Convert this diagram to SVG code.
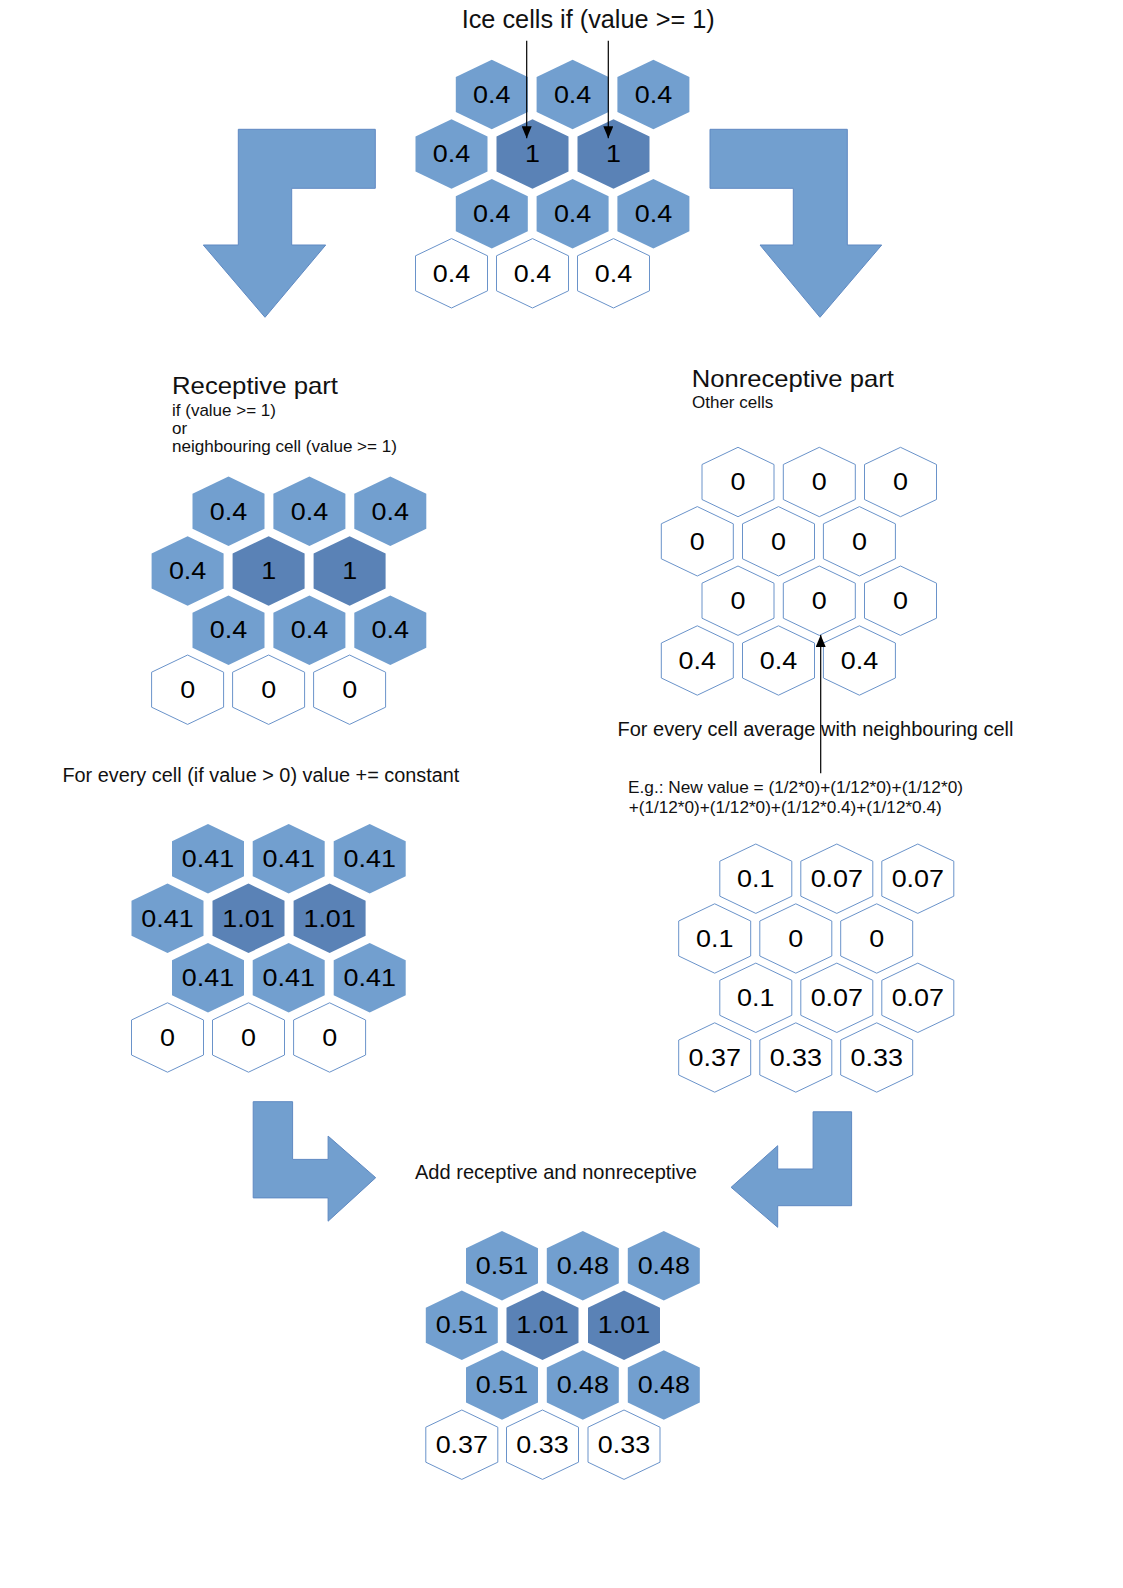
<svg xmlns="http://www.w3.org/2000/svg" width="1123" height="1588" viewBox="0 0 1123 1588">
<defs>
<style>
.light{fill:#729fcf;}
.dark{fill:#5a82b6;}
.white{fill:#ffffff;stroke:#6a93ca;stroke-width:1;}
.v{font-family:"Liberation Sans",Arial,sans-serif;font-size:23px;fill:#000;text-anchor:middle;}
.t{font-family:"Liberation Sans",Arial,sans-serif;fill:#111;}
.blk{fill:#729fcf;stroke:#5f89c2;stroke-width:1;}
.ln{stroke:#000;stroke-width:1.2;fill:none;marker-end:url(#ah);}
</style>
<polygon id="hx" points="0,-34.7 36,-17.5 36,17.5 0,34.7 -36,17.5 -36,-17.5"/>
<marker id="ah" markerUnits="userSpaceOnUse" markerWidth="12" markerHeight="10" refX="12" refY="5" orient="auto"><path d="M0,0 L12,5 L0,10 z" fill="#000"/></marker>
</defs>
<rect width="1123" height="1588" fill="#fff"/>

<g id="labels">
<text class="t" x="461.7" y="28" font-size="25" textLength="253" lengthAdjust="spacingAndGlyphs">Ice cells if (value &gt;= 1)</text>
<text class="t" x="172" y="393.8" font-size="24" textLength="166" lengthAdjust="spacingAndGlyphs">Receptive part</text>
<text class="t" x="172" y="415.8" font-size="17">if (value &gt;= 1)</text>
<text class="t" x="172" y="433.8" font-size="17">or</text>
<text class="t" x="172" y="452.3" font-size="17" textLength="225" lengthAdjust="spacingAndGlyphs">neighbouring cell (value &gt;= 1)</text>
<text class="t" x="691.8" y="387.3" font-size="24" textLength="202" lengthAdjust="spacingAndGlyphs">Nonreceptive part</text>
<text class="t" x="692" y="407.8" font-size="17">Other cells</text>
<text class="t" x="62.4" y="781.7" font-size="19.5" textLength="397" lengthAdjust="spacingAndGlyphs">For every cell (if value &gt; 0) value += constant</text>
<text class="t" x="617.5" y="735.5" font-size="19.5" textLength="396" lengthAdjust="spacingAndGlyphs">For every cell average with neighbouring cell</text>
<text class="t" x="628" y="793" font-size="16" textLength="335" lengthAdjust="spacingAndGlyphs">E.g.: New value = (1/2*0)+(1/12*0)+(1/12*0)</text>
<text class="t" x="628.7" y="812.8" font-size="16" textLength="313" lengthAdjust="spacingAndGlyphs">+(1/12*0)+(1/12*0)+(1/12*0.4)+(1/12*0.4)</text>
<text class="t" x="415" y="1178.5" font-size="19.8" textLength="282" lengthAdjust="spacingAndGlyphs">Add receptive and nonreceptive</text>
</g>

<g id="connectors">
<path class="blk" d="M238.3,129.3 L375.3,129.3 L375.3,188.3 L291.7,188.3 L291.7,245 L325.7,245 L265,317.3 L203.3,245 L238.3,245 Z"/>
<path class="blk" d="M710,129.3 L847.3,129.3 L847.3,245 L881.7,245 L820,317.3 L760,245 L793.3,245 L793.3,188.3 L710,188.3 Z"/>
<path class="blk" d="M253.2,1101.7 L292.6,1101.7 L292.6,1159.4 L328.1,1159.4 L328.1,1136.1 L375.7,1177.7 L328.1,1221.2 L328.1,1197.9 L253.2,1197.9 Z"/>
<path class="blk" d="M851.6,1111.8 L851.6,1205.7 L777.7,1205.7 L777.7,1227.3 L731.1,1187.3 L777.7,1145.7 L777.7,1169 L813.1,1169 L813.1,1111.8 Z"/>
</g>

<g id="grid-top">
<g id="top-1-1" transform="translate(491.8,94.5)"><use href="#hx" class="light"/><text class="v" transform="scale(1.17,1)" y="8.2">0.4</text></g>
<g id="top-1-2" transform="translate(572.6,94.5)"><use href="#hx" class="light"/><text class="v" transform="scale(1.17,1)" y="8.2">0.4</text></g>
<g id="top-1-3" transform="translate(653.4,94.5)"><use href="#hx" class="light"/><text class="v" transform="scale(1.17,1)" y="8.2">0.4</text></g>
<g id="top-2-1" transform="translate(451.5,154)"><use href="#hx" class="light"/><text class="v" transform="scale(1.17,1)" y="8.2">0.4</text></g>
<g id="top-2-2" transform="translate(532.5,154)"><use href="#hx" class="dark"/><text class="v" transform="scale(1.17,1)" y="8.2">1</text></g>
<g id="top-2-3" transform="translate(613.5,154)"><use href="#hx" class="dark"/><text class="v" transform="scale(1.17,1)" y="8.2">1</text></g>
<g id="top-3-1" transform="translate(491.8,213.7)"><use href="#hx" class="light"/><text class="v" transform="scale(1.17,1)" y="8.2">0.4</text></g>
<g id="top-3-2" transform="translate(572.6,213.7)"><use href="#hx" class="light"/><text class="v" transform="scale(1.17,1)" y="8.2">0.4</text></g>
<g id="top-3-3" transform="translate(653.4,213.7)"><use href="#hx" class="light"/><text class="v" transform="scale(1.17,1)" y="8.2">0.4</text></g>
<g id="top-4-1" transform="translate(451.5,273.3)"><use href="#hx" class="white"/><text class="v" transform="scale(1.17,1)" y="8.2">0.4</text></g>
<g id="top-4-2" transform="translate(532.5,273.3)"><use href="#hx" class="white"/><text class="v" transform="scale(1.17,1)" y="8.2">0.4</text></g>
<g id="top-4-3" transform="translate(613.5,273.3)"><use href="#hx" class="white"/><text class="v" transform="scale(1.17,1)" y="8.2">0.4</text></g>
</g>

<g id="grid-receptive">
<g id="rec-1-1" transform="translate(228.5,511.3)"><use href="#hx" class="light"/><text class="v" transform="scale(1.17,1)" y="8.2">0.4</text></g>
<g id="rec-1-2" transform="translate(309.4,511.3)"><use href="#hx" class="light"/><text class="v" transform="scale(1.17,1)" y="8.2">0.4</text></g>
<g id="rec-1-3" transform="translate(390.3,511.3)"><use href="#hx" class="light"/><text class="v" transform="scale(1.17,1)" y="8.2">0.4</text></g>
<g id="rec-2-1" transform="translate(187.6,571)"><use href="#hx" class="light"/><text class="v" transform="scale(1.17,1)" y="8.2">0.4</text></g>
<g id="rec-2-2" transform="translate(268.6,571)"><use href="#hx" class="dark"/><text class="v" transform="scale(1.17,1)" y="8.2">1</text></g>
<g id="rec-2-3" transform="translate(349.6,571)"><use href="#hx" class="dark"/><text class="v" transform="scale(1.17,1)" y="8.2">1</text></g>
<g id="rec-3-1" transform="translate(228.5,630.2)"><use href="#hx" class="light"/><text class="v" transform="scale(1.17,1)" y="8.2">0.4</text></g>
<g id="rec-3-2" transform="translate(309.4,630.2)"><use href="#hx" class="light"/><text class="v" transform="scale(1.17,1)" y="8.2">0.4</text></g>
<g id="rec-3-3" transform="translate(390.3,630.2)"><use href="#hx" class="light"/><text class="v" transform="scale(1.17,1)" y="8.2">0.4</text></g>
<g id="rec-4-1" transform="translate(187.6,689.7)"><use href="#hx" class="white"/><text class="v" transform="scale(1.17,1)" y="8.2">0</text></g>
<g id="rec-4-2" transform="translate(268.6,689.7)"><use href="#hx" class="white"/><text class="v" transform="scale(1.17,1)" y="8.2">0</text></g>
<g id="rec-4-3" transform="translate(349.6,689.7)"><use href="#hx" class="white"/><text class="v" transform="scale(1.17,1)" y="8.2">0</text></g>
</g>

<g id="grid-nonreceptive">
<g id="non-1-1" transform="translate(738,482)"><use href="#hx" class="white"/><text class="v" transform="scale(1.17,1)" y="8.2">0</text></g>
<g id="non-1-2" transform="translate(819.3,482)"><use href="#hx" class="white"/><text class="v" transform="scale(1.17,1)" y="8.2">0</text></g>
<g id="non-1-3" transform="translate(900.5,482)"><use href="#hx" class="white"/><text class="v" transform="scale(1.17,1)" y="8.2">0</text></g>
<g id="non-2-1" transform="translate(697.3,541.3)"><use href="#hx" class="white"/><text class="v" transform="scale(1.17,1)" y="8.2">0</text></g>
<g id="non-2-2" transform="translate(778.5,541.3)"><use href="#hx" class="white"/><text class="v" transform="scale(1.17,1)" y="8.2">0</text></g>
<g id="non-2-3" transform="translate(859.4,541.3)"><use href="#hx" class="white"/><text class="v" transform="scale(1.17,1)" y="8.2">0</text></g>
<g id="non-3-1" transform="translate(738,600.7)"><use href="#hx" class="white"/><text class="v" transform="scale(1.17,1)" y="8.2">0</text></g>
<g id="non-3-2" transform="translate(819.3,600.7)"><use href="#hx" class="white"/><text class="v" transform="scale(1.17,1)" y="8.2">0</text></g>
<g id="non-3-3" transform="translate(900.5,600.7)"><use href="#hx" class="white"/><text class="v" transform="scale(1.17,1)" y="8.2">0</text></g>
<g id="non-4-1" transform="translate(697.3,660.5)"><use href="#hx" class="white"/><text class="v" transform="scale(1.17,1)" y="8.2">0.4</text></g>
<g id="non-4-2" transform="translate(778.5,660.5)"><use href="#hx" class="white"/><text class="v" transform="scale(1.17,1)" y="8.2">0.4</text></g>
<g id="non-4-3" transform="translate(859.4,660.5)"><use href="#hx" class="white"/><text class="v" transform="scale(1.17,1)" y="8.2">0.4</text></g>
</g>

<g id="grid-receptive-added">
<g id="add-1-1" transform="translate(208,858.7)"><use href="#hx" class="light"/><text class="v" transform="scale(1.17,1)" y="8.2">0.41</text></g>
<g id="add-1-2" transform="translate(288.7,858.7)"><use href="#hx" class="light"/><text class="v" transform="scale(1.17,1)" y="8.2">0.41</text></g>
<g id="add-1-3" transform="translate(369.7,858.7)"><use href="#hx" class="light"/><text class="v" transform="scale(1.17,1)" y="8.2">0.41</text></g>
<g id="add-2-1" transform="translate(167.5,918.3)"><use href="#hx" class="light"/><text class="v" transform="scale(1.17,1)" y="8.2">0.41</text></g>
<g id="add-2-2" transform="translate(248.5,918.3)"><use href="#hx" class="dark"/><text class="v" transform="scale(1.17,1)" y="8.2">1.01</text></g>
<g id="add-2-3" transform="translate(329.6,918.3)"><use href="#hx" class="dark"/><text class="v" transform="scale(1.17,1)" y="8.2">1.01</text></g>
<g id="add-3-1" transform="translate(208,977.7)"><use href="#hx" class="light"/><text class="v" transform="scale(1.17,1)" y="8.2">0.41</text></g>
<g id="add-3-2" transform="translate(288.7,977.7)"><use href="#hx" class="light"/><text class="v" transform="scale(1.17,1)" y="8.2">0.41</text></g>
<g id="add-3-3" transform="translate(369.7,977.7)"><use href="#hx" class="light"/><text class="v" transform="scale(1.17,1)" y="8.2">0.41</text></g>
<g id="add-4-1" transform="translate(167.5,1037.5)"><use href="#hx" class="white"/><text class="v" transform="scale(1.17,1)" y="8.2">0</text></g>
<g id="add-4-2" transform="translate(248.5,1037.5)"><use href="#hx" class="white"/><text class="v" transform="scale(1.17,1)" y="8.2">0</text></g>
<g id="add-4-3" transform="translate(329.6,1037.5)"><use href="#hx" class="white"/><text class="v" transform="scale(1.17,1)" y="8.2">0</text></g>
</g>

<g id="grid-averaged">
<g id="avg-1-1" transform="translate(755.8,878.7)"><use href="#hx" class="white"/><text class="v" transform="scale(1.17,1)" y="8.2">0.1</text></g>
<g id="avg-1-2" transform="translate(836.8,878.7)"><use href="#hx" class="white"/><text class="v" transform="scale(1.17,1)" y="8.2">0.07</text></g>
<g id="avg-1-3" transform="translate(917.8,878.7)"><use href="#hx" class="white"/><text class="v" transform="scale(1.17,1)" y="8.2">0.07</text></g>
<g id="avg-2-1" transform="translate(714.7,938.5)"><use href="#hx" class="white"/><text class="v" transform="scale(1.17,1)" y="8.2">0.1</text></g>
<g id="avg-2-2" transform="translate(795.8,938.5)"><use href="#hx" class="white"/><text class="v" transform="scale(1.17,1)" y="8.2">0</text></g>
<g id="avg-2-3" transform="translate(876.7,938.5)"><use href="#hx" class="white"/><text class="v" transform="scale(1.17,1)" y="8.2">0</text></g>
<g id="avg-3-1" transform="translate(755.8,997.8)"><use href="#hx" class="white"/><text class="v" transform="scale(1.17,1)" y="8.2">0.1</text></g>
<g id="avg-3-2" transform="translate(836.8,997.8)"><use href="#hx" class="white"/><text class="v" transform="scale(1.17,1)" y="8.2">0.07</text></g>
<g id="avg-3-3" transform="translate(917.8,997.8)"><use href="#hx" class="white"/><text class="v" transform="scale(1.17,1)" y="8.2">0.07</text></g>
<g id="avg-4-1" transform="translate(714.7,1057.5)"><use href="#hx" class="white"/><text class="v" transform="scale(1.17,1)" y="8.2">0.37</text></g>
<g id="avg-4-2" transform="translate(795.8,1057.5)"><use href="#hx" class="white"/><text class="v" transform="scale(1.17,1)" y="8.2">0.33</text></g>
<g id="avg-4-3" transform="translate(876.7,1057.5)"><use href="#hx" class="white"/><text class="v" transform="scale(1.17,1)" y="8.2">0.33</text></g>
</g>

<g id="grid-result">
<g id="res-1-1" transform="translate(502,1265.7)"><use href="#hx" class="light"/><text class="v" transform="scale(1.17,1)" y="8.2">0.51</text></g>
<g id="res-1-2" transform="translate(582.8,1265.7)"><use href="#hx" class="light"/><text class="v" transform="scale(1.17,1)" y="8.2">0.48</text></g>
<g id="res-1-3" transform="translate(663.8,1265.7)"><use href="#hx" class="light"/><text class="v" transform="scale(1.17,1)" y="8.2">0.48</text></g>
<g id="res-2-1" transform="translate(461.8,1325.2)"><use href="#hx" class="light"/><text class="v" transform="scale(1.17,1)" y="8.2">0.51</text></g>
<g id="res-2-2" transform="translate(542.5,1325.2)"><use href="#hx" class="dark"/><text class="v" transform="scale(1.17,1)" y="8.2">1.01</text></g>
<g id="res-2-3" transform="translate(624,1325.2)"><use href="#hx" class="dark"/><text class="v" transform="scale(1.17,1)" y="8.2">1.01</text></g>
<g id="res-3-1" transform="translate(502,1385)"><use href="#hx" class="light"/><text class="v" transform="scale(1.17,1)" y="8.2">0.51</text></g>
<g id="res-3-2" transform="translate(582.8,1385)"><use href="#hx" class="light"/><text class="v" transform="scale(1.17,1)" y="8.2">0.48</text></g>
<g id="res-3-3" transform="translate(663.8,1385)"><use href="#hx" class="light"/><text class="v" transform="scale(1.17,1)" y="8.2">0.48</text></g>
<g id="res-4-1" transform="translate(461.8,1444.7)"><use href="#hx" class="white"/><text class="v" transform="scale(1.17,1)" y="8.2">0.37</text></g>
<g id="res-4-2" transform="translate(542.5,1444.7)"><use href="#hx" class="white"/><text class="v" transform="scale(1.17,1)" y="8.2">0.33</text></g>
<g id="res-4-3" transform="translate(624,1444.7)"><use href="#hx" class="white"/><text class="v" transform="scale(1.17,1)" y="8.2">0.33</text></g>
</g>

<g id="pointer-lines">
<line class="ln" x1="526.7" y1="40.7" x2="526.7" y2="138.3"/>
<line class="ln" x1="608.3" y1="40.7" x2="608.3" y2="138.3"/>
<line class="ln" x1="820.7" y1="773.3" x2="820.7" y2="635"/>
</g>
</svg>
